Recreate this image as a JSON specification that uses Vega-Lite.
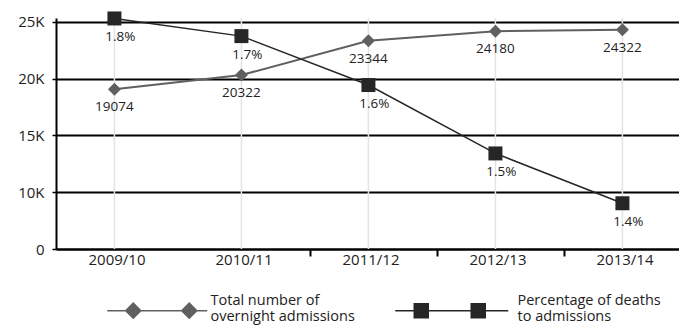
{
  "$schema": "https://vega.github.io/schema/vega-lite/v6.json",
  "autosize": {"type": "none"},
  "padding": {"left": 56, "top": 18, "right": 6, "bottom": 77},
  "width": 617,
  "height": 231,
  "config": {
    "font": "Open Sans",
    "view": {"stroke": null},
    "axis": {"labelColor": "#222", "labelFont": "Open Sans"},
    "legend": {"labelFont": "Open Sans"}
  },
  "data": {
    "values": [
      {"year": "2009/10", "admissions": 19074, "pct": 1.759, "pctLabel": "1.8%"},
      {"year": "2010/11", "admissions": 20322, "pct": 1.72, "pctLabel": "1.7%"},
      {"year": "2011/12", "admissions": 23344, "pct": 1.612, "pctLabel": "1.6%"},
      {"year": "2012/13", "admissions": 24180, "pct": 1.461, "pctLabel": "1.5%"},
      {"year": "2013/14", "admissions": 24322, "pct": 1.351, "pctLabel": "1.4%"}
    ]
  },
  "encoding": {
    "x": {
      "field": "year",
      "type": "nominal",
      "bandPosition": 0.46,
      "scale": {"type": "band", "range": [0, 635], "paddingInner": 0, "paddingOuter": 0},
      "axis": {
        "title": null,
        "labelAngle": 0,
        "labelFontSize": 15,
        "labelPadding": -4,
        "labelOffset": -3,
        "tickBand": "extent",
        "tickSize": 7,
        "tickWidth": 2,
        "tickColor": "#000",
        "tickOpacity": {"condition": {"test": "datum.value == '2009/10' || datum.extra", "value": 0}, "value": 1},
        "domainColor": "#000",
        "domainWidth": 2,
        "grid": false
      }
    }
  },
  "layer": [
    {
      "mark": {"type": "rule", "color": "#e4e4e4", "strokeWidth": 1.5},
      "encoding": {}
    },
    {
      "encoding": {
        "y": {
          "field": "admissions",
          "type": "quantitative",
          "scale": {"domain": [5000, 25350], "nice": false, "zero": false},
          "axis": {
            "title": null,
            "values": [5000, 10000, 15000, 20000, 25000],
            "labelExpr": "datum.value == 5000 ? '0' : (datum.value / 1000) + 'K'",
            "labelFontSize": 15,
            "labelPadding": 8,
            "tickSize": 4,
            "tickWidth": 1.5,
            "tickColor": "#000",
            "domainColor": "#000",
            "domainWidth": 2,
            "grid": true,
            "gridColor": "#000",
            "gridWidth": 2,
            "gridOpacity": 1
          }
        }
      },
      "layer": [
        {
          "mark": {"type": "line", "strokeWidth": 2},
          "encoding": {
            "color": {
              "datum": "Total number of overnight admissions",
              "scale": {
                "domain": ["Total number of overnight admissions", "Percentage of deaths to admissions"],
                "range": ["#606060", "#262626"]
              },
              "legend": {
                "orient": "none",
                "legendX": 99,
                "legendY": 275,
                "direction": "horizontal",
                "columns": 2,
                "title": null,
                "symbolSize": 4,
                "symbolStrokeWidth": 1.5,
                "labelOffset": 41,
                "labelFontSize": 14.5,
                "labelLimit": 300,
                "labelColor": "#222",
                "columnPadding": 37,
                "labelExpr": "datum.label == 'Total number of overnight admissions' ? ['Total number of', 'overnight admissions'] : ['Percentage of deaths', 'to admissions']",
                "encode": {
                  "symbols": {
                    "update": {
                      "shape": {"signal": "datum.value == 'Total number of overnight admissions' ? 'M-55,10H45M-29,2.5L-21.5,10L-29,17.5L-36.5,10ZM27,2.5L34.5,10L27,17.5L19.5,10Z' : 'M-74,10H39M-55,3H-41V17H-55ZM2,3H16V17H2Z'"},
                      "stroke": {"scale": "color", "field": "value"},
                      "fill": {"scale": "color", "field": "value"},
                      "opacity": {"value": 1}
                    }
                  }
                }
              }
            }
          }
        },
        {
          "mark": {"type": "point", "shape": "diamond", "filled": true, "size": 169, "opacity": 1},
          "encoding": {"color": {"datum": "Total number of overnight admissions"}}
        },
        {
          "mark": {"type": "text", "dy": 18, "fontSize": 13.5, "color": "#222"},
          "encoding": {"text": {"field": "admissions", "type": "quantitative", "format": "d"}}
        }
      ]
    },
    {
      "encoding": {
        "y": {
          "field": "pct",
          "type": "quantitative",
          "scale": {"domain": [1.25, 1.76], "nice": false, "zero": false},
          "axis": null
        }
      },
      "layer": [
        {
          "mark": {"type": "line", "strokeWidth": 1.5},
          "encoding": {"color": {"datum": "Percentage of deaths to admissions"}}
        },
        {
          "mark": {"type": "point", "shape": "square", "filled": true, "size": 196, "opacity": 1},
          "encoding": {"color": {"datum": "Percentage of deaths to admissions"}}
        },
        {
          "mark": {"type": "text", "dy": 19, "dx": 6, "fontSize": 13.5, "color": "#222"},
          "encoding": {"text": {"field": "pctLabel", "type": "nominal"}}
        }
      ]
    }
  ],
  "resolve": {"scale": {"y": "independent"}}
}
